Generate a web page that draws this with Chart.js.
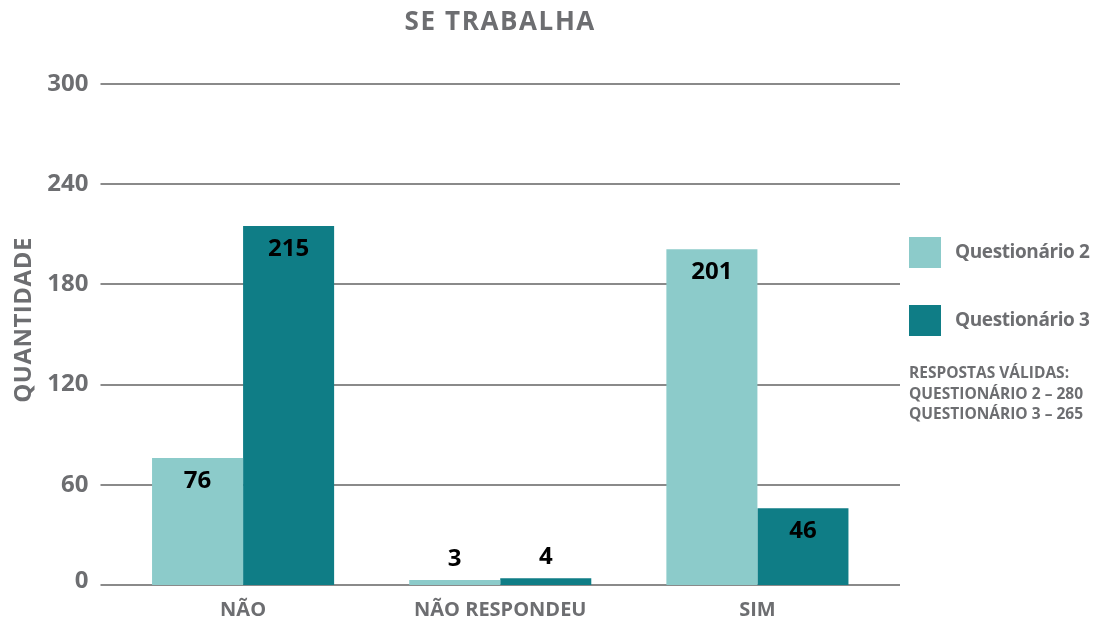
<!DOCTYPE html>
<html>
<head>
<meta charset="utf-8">
<script src="https://cdn.jsdelivr.net/npm/chart.js@4/dist/chart.umd.min.js"></script>
<style>
  html, body { margin: 0; padding: 0; background: #fff; }
  #wrap { width: 1099px; height: 618px; }
</style>
</head>
<body>
<div id="wrap"><canvas id="myChart" width="1099" height="618"></canvas></div>
<script>
var categories = ['NÃO', 'NÃO RESPONDEU', 'SIM'];
var seriesNames = ['Questionário 2', 'Questionário 3'];
var questionario2 = [76, 3, 201];
var questionario3 = [215, 4, 46];
var yTicks = [0, 60, 120, 180, 240, 300];
var notes = ['RESPOSTAS VÁLIDAS:', 'QUESTIONÁRIO 2 – 280', 'QUESTIONÁRIO 3 – 265'];

var grey = '#6d6e71';
var fontFamily = '"Open Sans", "Noto Sans", sans-serif';

// horizontal lines, a bit wider than the plot area
var gridPlugin = {
    id: 'wideGrid',
    beforeDatasetsDraw: function(chart) {
        var ctx = chart.ctx, area = chart.chartArea, y = chart.scales.y;
        ctx.save();
        ctx.strokeStyle = '#8a8a8a';
        ctx.lineWidth = 2;
        yTicks.forEach(function(v) {
            var py = Math.round(y.getPixelForValue(v));
            ctx.beginPath();
            ctx.moveTo(area.left - 14, py);
            ctx.lineTo(area.right + 14, py);
            ctx.stroke();
        });
        ctx.restore();
    }
};

// numbers on the bars
var valuePlugin = {
    id: 'barValues',
    afterDatasetsDraw: function(chart) {
        var ctx = chart.ctx;
        ctx.save();
        ctx.font = 'bold 24px ' + fontFamily;
        ctx.fillStyle = '#000';
        ctx.textAlign = 'center';
        ctx.textBaseline = 'middle';
        chart.data.datasets.forEach(function(ds, i) {
            chart.getDatasetMeta(i).data.forEach(function(bar, j) {
                var h = bar.base - bar.y;
                var ty = h > 40 ? bar.y + 23 : bar.y - 21;
                ctx.fillText(String(ds.data[j]), bar.x, ty);
            });
        });
        ctx.restore();
    }
};

// titles, axis labels, legend and notes drawn by hand
var textPlugin = {
    id: 'sideText',
    afterDraw: function(chart) {
        var ctx = chart.ctx, area = chart.chartArea;
        var x = chart.scales.x, y = chart.scales.y;
        ctx.save();
        ctx.fillStyle = grey;
        ctx.textBaseline = 'middle';

        // main title
        ctx.textAlign = 'center';
        ctx.font = 'bold 26px ' + fontFamily;
        ctx.letterSpacing = '1.6px';
        ctx.fillText('SE TRABALHA', (area.left + area.right) / 2, 23);

        // category labels
        ctx.letterSpacing = '0px';
        ctx.font = 'bold 20px ' + fontFamily;
        categories.forEach(function(c, i) {
            ctx.fillText(c, x.getPixelForValue(i), area.bottom + 25);
        });

        // y tick labels
        ctx.textAlign = 'right';
        ctx.font = 'bold 24px ' + fontFamily;
        yTicks.forEach(function(v) {
            ctx.fillText(String(v), area.left - 26, y.getPixelForValue(v) - (v === 0 ? 4 : 0));
        });

        // y axis title
        ctx.save();
        ctx.textAlign = 'center';
        ctx.translate(24, 320);
        ctx.rotate(-Math.PI / 2);
        ctx.letterSpacing = '0.5px';
        ctx.fillText('QUANTIDADE', 0, 0);
        ctx.restore();

        // legend
        var x0 = area.right + 23;
        chart.data.datasets.forEach(function(ds, i) {
            var top = 237 + i * 68;
            ctx.fillStyle = ds.backgroundColor;
            ctx.fillRect(x0, top, 32, 31);
            ctx.fillStyle = grey;
            ctx.font = 'bold 19px ' + fontFamily;
            ctx.letterSpacing = '-0.4px';
            ctx.textAlign = 'left';
            ctx.fillText(ds.label, x0 + 46, top + 16);
        });
        ctx.letterSpacing = '0px';
        ctx.font = 'bold 15.5px ' + fontFamily;
        notes.forEach(function(t, k) {
            ctx.fillText(t, x0, 374 + k * 20.5);
        });
        ctx.restore();
    }
};

var ctx = document.getElementById('myChart').getContext('2d');
var myChart = new Chart(ctx, {
    type: 'bar',
    data: {
        labels: categories,
        datasets: [{
            label: seriesNames[0],
            data: questionario2,
            backgroundColor: '#8ccbca'
        }, {
            label: seriesNames[1],
            data: questionario3,
            backgroundColor: '#0f7d86'
        }]
    },
    options: {
        responsive: false,
        animation: false,
        layout: { padding: { left: 0, right: 213, top: 84, bottom: 33 } },
        datasets: {
            bar: { categoryPercentage: 0.708, barPercentage: 1.0 }
        },
        plugins: {
            legend: { display: false },
            tooltip: { enabled: false },
            title: { display: false }
        },
        scales: {
            x: {
                grid: { display: false, drawTicks: false },
                border: { display: false },
                ticks: { display: false }
            },
            y: {
                min: 0,
                max: 300,
                afterBuildTicks: function(scale) {
                    scale.ticks = yTicks.map(function(v) { return { value: v }; });
                },
                grid: { display: false, drawTicks: false },
                border: { display: false },
                ticks: { display: false },
                afterFit: function(scale) { scale.width = 114.5; }
            }
        }
    },
    plugins: [gridPlugin, valuePlugin, textPlugin]
});
</script>
</body>
</html>
